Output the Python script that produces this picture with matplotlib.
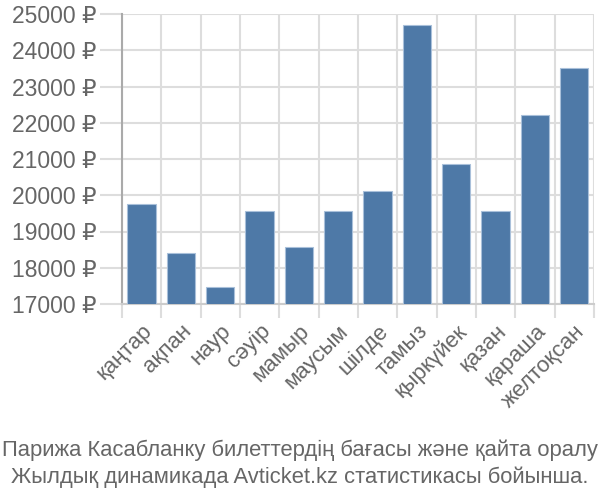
import matplotlib
matplotlib.use("Agg")
import matplotlib.pyplot as plt
import numpy as np

plt.rcParams['font.family'] = ['Liberation Sans', 'DejaVu Sans']

months = ["қаңтар", "ақпан", "наур", "сәуір", "мамыр", "маусым",
          "шілде", "тамыз", "қыркүйек", "қазан", "қараша", "желтоқсан"]
prices = [19750, 18400, 17470, 19570, 18560, 19570,
          20110, 24700, 20850, 19570, 22210, 23500]
yticks = list(range(17000, 25001, 1000))
caption = ["Парижа Касабланку билеттердің бағасы және қайта оралу",
           "Жылдық динамикада Avticket.kz статистикасы бойынша."]

TEXT = "#666666"
GRID = "#dddddd"

fig = plt.figure(figsize=(6, 5), dpi=100)
ax = fig.add_axes([0.203, 0.392, 0.787, 0.580])

x = np.arange(len(months))
ax.bar(x, prices, width=0.72, bottom=0, color="#4e79a7",
       edgecolor="#a9c0da", linewidth=0.8, zorder=3)

ax.set_xlim(-0.5, len(months) - 0.5)
ax.set_ylim(yticks[0], yticks[-1])

ax.set_yticks(yticks)
ax.set_yticklabels([f"{v} ₽" for v in yticks])
ax.set_xticks(x)
ax.set_xticklabels(months, rotation=45, ha="right", rotation_mode="anchor")
ax.set_xticks(np.arange(-0.5, len(months)), minor=True)

ax.tick_params(axis="y", length=16, width=1.5, color=GRID, labelsize=16.5,
               labelcolor=TEXT, pad=2)
ax.tick_params(axis="x", which="major", length=0, labelsize=16,
               labelcolor=TEXT, pad=12)
ax.tick_params(axis="x", which="minor", length=10, width=1.5, color=GRID)

ax.grid(True, axis="y", color=GRID, linewidth=1.5, zorder=0)
ax.grid(True, axis="x", which="minor", color=GRID, linewidth=1.5, zorder=0)

for side in ["top", "right"]:
    ax.spines[side].set_visible(False)
ax.spines["left"].set_color("#aaaaaa")
ax.spines["left"].set_linewidth(1.5)
ax.spines["bottom"].set_color("#cccccc")
ax.spines["bottom"].set_linewidth(1.5)

fig.text(0.5, 0.100, caption[0], ha="center", va="center", fontsize=15.8, color=TEXT)
fig.text(0.5, 0.046, caption[1], ha="center", va="center", fontsize=15.8, color=TEXT)

fig.savefig("out.png", dpi=100)
